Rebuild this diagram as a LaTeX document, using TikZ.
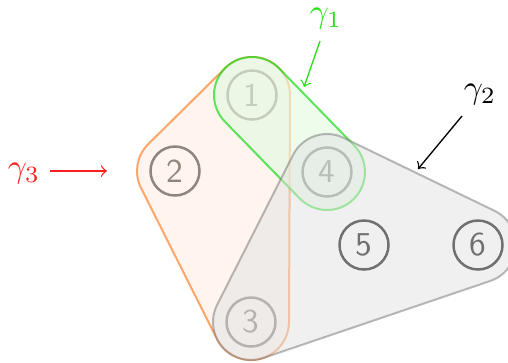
\documentclass[tikz,border=0pt]{standalone}
\usetikzlibrary{calc}
\definecolor{ofill}{RGB}{255,237,225}
\definecolor{odraw}{RGB}{255,100,0}
\definecolor{gfill}{RGB}{228,250,225}
\definecolor{gdraw}{RGB}{0,215,0}
\definecolor{kfill}{RGB}{225,225,225}
\definecolor{kdraw}{RGB}{117,117,117}
\definecolor{glabel}{RGB}{40,225,20}
\definecolor{rlabel}{RGB}{255,30,30}
\begin{document}
\begin{tikzpicture}[x=0.3pt,y=0.3pt,
  vtx/.style={circle, draw=black, line width=0.75pt, minimum size=14.7pt, inner sep=0pt, font=\sffamily, text=black},
  hedgeO/.style={fill=ofill, draw=odraw, fill opacity=0.56, draw opacity=0.56, line width=0.6pt},
  hedgeG/.style={fill=gfill, draw=gdraw, fill opacity=0.625, draw opacity=0.625, line width=0.6pt},
  hedgeK/.style={fill=kfill, draw=kdraw, fill opacity=0.5, draw opacity=0.5, line width=0.6pt},
  lab/.style={inner sep=0pt},
  pointer/.style={->, line width=0.4pt}]
\useasboundingbox (0,0) rectangle (508,362);
\def\hr{11.4pt}
% vertices
\node[vtx] (n1) at (252,267) {1};
\node[vtx] (n2) at (175,191) {2};
\node[vtx] (n3) at (251,40) {3};
\node[vtx] (n4) at (327,190) {4};
\node[vtx] (n5) at (364,117) {5};
\node[vtx] (n6) at (478,117) {6};
% gamma 3 (orange) : 1,2,3
\path[hedgeO] ($(n1.center)+(-0.25:\hr)$) arc[start angle=-0.25,end angle=134.6,radius=\hr]
  -- ($(n2.center)+(134.6:\hr)$) arc[start angle=134.6,end angle=206.7,radius=\hr]
  -- ($(n3.center)+(206.7:\hr)$) arc[start angle=206.7,end angle=359.75,radius=\hr] -- cycle;
% gamma 1 (green) : 1,4
\path[hedgeG] ($(n1.center)+(44.25:\hr)$) arc[start angle=44.25,end angle=224.25,radius=\hr]
  -- ($(n4.center)+(224.25:\hr)$) arc[start angle=224.25,end angle=404.25,radius=\hr] -- cycle;
% gamma 2 (gray) : 3,6,4 (5 inside)
\path[hedgeK] ($(n3.center)+(153.1:\hr)$) arc[start angle=153.1,end angle=288.74,radius=\hr]
  -- ($(n6.center)+(288.74:\hr)$) arc[start angle=288.74,end angle=424.2,radius=\hr]
  -- ($(n4.center)+(64.2:\hr)$) arc[start angle=64.2,end angle=153.1,radius=\hr] -- cycle;
% labels
\node[lab, text=glabel] (g1) at (326,343.5) {$\gamma_1$};
\node[lab] (g2) at (480,267) {$\gamma_2$};
\node[lab, text=rlabel] (g3) at (24,188) {$\gamma_3$};
\coordinate (a1s) at (320,321);
\coordinate (a1e) at (304,275);
\coordinate (a2s) at (462,246);
\coordinate (a2e) at (418,193);
\coordinate (a3s) at (50,191);
\coordinate (a3e) at (107,191);
\draw[pointer, glabel] (a1s) -- (a1e);
\draw[pointer, black] (a2s) -- (a2e);
\draw[pointer, rlabel] (a3s) -- (a3e);
\end{tikzpicture}
\end{document}
